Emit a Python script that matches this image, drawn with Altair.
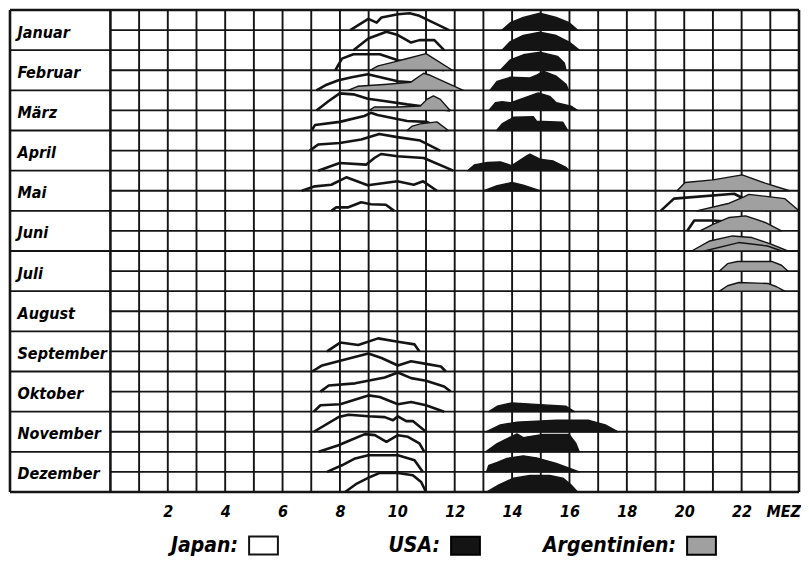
import json
import altair as alt
import pandas as pd

# ---------------- data ----------------
MONTHS = ["Januar", "Februar", "März", "April", "Mai", "Juni", "Juli",
          "August", "September", "Oktober", "November", "Dezember"]
HOUR_TICKS = [2, 4, 6, 8, 10, 12, 14, 16, 18, 20, 22]
UNIT = "MEZ"
OPEN_LEGEND = ["Japan:"]
FILLED_LEGEND = ["USA:", "Argentinien:"]

# each profile: (half-month row, hours MEZ, level as fraction of the row height)
JAPAN = [
    (0, [8.36, 8.99, 9.28, 9.45, 10.02, 10.43, 10.77, 11.80], [0, .56, .37, .63, .79, .84, .71, 0]),
    (1, [8.47, 8.99, 9.62, 10.02, 10.48, 10.77, 11.29, 11.63], [0, .58, .92, .75, .38, .5, .5, 0]),
    (2, [7.84, 8.07, 8.47, 9.39, 10.02, 10.54, 11.17, 11.63], [0, .58, .8, .8, .5, .33, .12, 0]),
    (3, [7.18, 7.49, 7.95, 8.41, 8.97, 9.56, 10.02, 10.69, 11.9], [0, .25, .5, .65, .8, .6, .45, .38, 0]),
    (4, [7.18, 7.61, 7.99, 8.47, 8.97, 9.54, 10.34, 10.8, 11.84], [0, .47, .85, .8, .58, .47, .3, .22, 0]),
    (5, [7.01, 7.13, 7.99, 8.85, 9.08, 9.31, 10.34, 11.03, 11.72], [0, .27, .43, .72, .88, .77, .47, .43, 0]),
    (6, [6.95, 7.24, 7.99, 8.74, 9.37, 10.0, 10.8, 11.49], [0, .3, .38, .55, .83, .67, .5, 0]),
    (7, [7.24, 7.99, 8.91, 9.2, 9.43, 10.0, 10.92, 11.95], [0, .38, .3, .63, .83, .72, .63, 0]),
    (8, [6.67, 7.13, 7.7, 8.22, 8.97, 10.0, 10.57, 10.9, 11.38], [0, .22, .3, .67, .27, .47, .3, .47, 0]),
    (9, [7.7, 7.87, 8.27, 8.74, 9.08, 9.6, 9.89], [0, .17, .17, .43, .33, .3, 0]),
    (9, [19.18, 19.64, 21.74, 22.9], [0, .61, .85, 0]),
    (10, [20.1, 20.35, 21.0, 21.6, 22.3], [0, .52, .52, .45, 0]),
    (16, [7.55, 8.01, 8.64, 9.33, 10.02, 10.6, 10.77], [0, .44, .32, .65, .48, .35, 0]),
    (17, [7.03, 7.38, 8.01, 8.99, 9.45, 10.02, 10.48, 11.0, 11.52, 11.69], [0, .3, .54, .9, .67, .3, .51, .38, .25, 0]),
    (18, [7.32, 7.61, 8.53, 9.56, 10.02, 10.48, 11.0, 11.63, 11.86], [0, .3, .41, .7, .95, .67, .54, .25, 0]),
    (19, [7.09, 7.32, 8.01, 8.99, 9.39, 10.02, 10.48, 11.0, 11.63], [0, .32, .37, .81, .73, .37, .48, .32, 0]),
    (20, [7.09, 7.95, 8.3, 8.99, 9.56, 9.85, 10.02, 10.31, 10.54, 11.0], [0, .73, .85, .77, .73, .57, .77, .53, .53, 0]),
    (21, [7.26, 7.95, 8.36, 8.87, 9.22, 9.62, 10.02, 10.37, 10.77, 10.94], [0, .33, .58, .88, .83, .5, .83, .75, .42, 0]),
    (22, [7.55, 8.07, 8.53, 8.99, 10.02, 10.6, 10.89], [0, .33, .67, .83, .83, .58, 0]),
    (23, [8.18, 8.59, 9.05, 9.39, 10.02, 10.54, 10.83, 11.0], [0, .42, .75, .95, .95, .83, .5, 0]),
]

USA = [
    (0, [13.65, 13.94, 14.39, 14.97, 15.54, 15.99, 16.28], [0, .37, .63, .84, .63, .37, 0]),
    (1, [13.65, 13.94, 14.39, 14.97, 15.54, 15.99, 16.34], [0, .43, .73, .9, .73, .4, 0]),
    (2, [13.59, 13.94, 14.39, 14.97, 15.59, 15.82, 15.88], [0, .52, .77, .9, .69, .36, 0]),
    (3, [13.23, 13.48, 13.94, 14.62, 14.85, 15.08, 15.54, 15.88, 15.97], [0, .45, .65, .62, .75, .95, .7, .3, 0]),
    (4, [13.19, 13.42, 13.65, 13.94, 14.91, 15.31, 15.54, 16.05, 16.28], [0, .38, .43, .38, .87, .7, .38, .21, 0]),
    (5, [13.46, 13.65, 14.05, 14.74, 14.85, 15.77, 15.94], [0, .33, .66, .69, .46, .41, 0]),
    (7, [12.45, 12.68, 13.14, 13.59, 13.99, 14.51, 14.62, 14.97, 15.42, 15.88, 16.0], [0, .28, .41, .44, .25, .74, .82, .57, .49, .16, 0]),
    (8, [13.02, 13.48, 13.99, 14.39, 14.97], [0, .25, .41, .28, 0]),
    (19, [13.19, 13.48, 13.99, 14.97, 15.88, 16.17], [0, .27, .44, .35, .27, 0]),
    (20, [13.11, 13.59, 14.17, 15.54, 16.68, 17.25, 17.69], [0, .34, .48, .57, .57, .34, 0]),
    (21, [13.08, 13.48, 13.99, 14.17, 14.39, 15.08, 15.99, 16.22, 16.34], [0, .41, .77, .89, .71, .86, .86, .43, 0]),
    (22, [13.11, 13.19, 13.48, 13.82, 14.39, 14.85, 15.54, 16.34], [0, .33, .47, .67, .8, .7, .42, 0]),
    (23, [13.11, 13.54, 14.05, 14.62, 15.31, 15.77, 16.05, 16.28], [0, .36, .69, .82, .82, .69, .36, 0]),
]

ARGENTINIEN = [
    (2, [9.05, 9.33, 9.9, 10.25, 11.0, 11.92], [0, .22, .42, .55, .83, 0]),
    (3, [8.28, 8.62, 9.66, 10.46, 10.92, 11.15, 12.3], [0, .2, .3, .4, .85, .75, 0]),
    (4, [9.02, 9.2, 10.0, 10.8, 11.03, 11.26, 11.5, 11.84], [0, .17, .17, .22, .55, .72, .55, 0]),
    (5, [10.34, 10.52, 10.8, 11.38, 11.78], [0, .22, .33, .43, 0]),
    (8, [19.75, 20.03, 21.0, 22.02, 22.82, 23.67], [0, .41, .54, .79, .38, 0]),
    (9, [20.43, 21.57, 22.08, 22.25, 23.5, 24.0], [0, .38, .7, .82, .61, 0]),
    (10, [20.55, 21.0, 21.57, 22.14, 22.82, 23.39], [0, .33, .67, .75, .42, 0]),
    (11, [20.26, 20.89, 21.68, 22.36, 23.05, 23.61], [0, .5, .75, .67, .33, 0]),
    (11, [20.7, 21.9, 22.9, 23.4], [0, .42, .25, 0]),
    (12, [21.23, 21.51, 21.85, 23.05, 23.39, 23.61], [0, .37, .48, .48, .29, 0]),
    (13, [21.23, 21.51, 21.9, 22.93, 23.22, 23.5], [0, .27, .43, .38, .22, 0]),
]

# ---------------- layout / style ----------------
FONT = "DejaVu Sans Condensed, Liberation Sans Narrow, sans-serif"
INK = "#141414"
STIPPLE = "#a0a0a0"
LABEL_COL = -3.5      # label column left edge, in hours
N_HALF = 24           # half-month rows
RECT = "M-1.6,-1L1.6,-1L1.6,1L-1.6,1Z"


def build(profiles, name, col):
    recs = []
    for i, (k, hs, fs) in enumerate(profiles):
        for h, f in zip(hs, fs):
            recs.append({"pid": f"{name}-{i}", col: name, "hour": h,
                         "top": k + 1 - f, "base": k + 1})
    return pd.DataFrame(recs)


jp = build(JAPAN, OPEN_LEGEND[0], "open_series")
filled = pd.concat([build(ARGENTINIEN, FILLED_LEGEND[1], "filled_series"),
                    build(USA, FILLED_LEGEND[0], "filled_series")], ignore_index=True)

inner_v = pd.DataFrame({"x": list(range(1, 24)), "y1": 0, "y2": N_HALF})
frame_v = pd.DataFrame({"x": [LABEL_COL, 0, 24], "y1": 0, "y2": N_HALF})
inner_h = pd.DataFrame({"y": list(range(1, N_HALF))})
inner_h["x1"] = [LABEL_COL if y % 2 == 0 else 0 for y in inner_h["y"]]
inner_h["x2"] = 24
frame_h = pd.DataFrame({"y": [0, N_HALF], "x1": LABEL_COL, "x2": 24})

xs = alt.Scale(domain=[LABEL_COL, 24], nice=False, zero=False)
ys = alt.Scale(domain=[0, N_HALF], reverse=True, nice=False, zero=False)

xaxis = alt.Axis(values=HOUR_TICKS + [23.45], format="d",
                 labelExpr=f"datum.value > 23 ? '{UNIT}' : datum.label",
                 grid=False, ticks=False, tickSize=0, domain=False, title=None,
                 labelPadding=11, labelFont=FONT, labelFontSize=16,
                 labelFontStyle="italic", labelFontWeight="bold",
                 labelColor="black", labelAngle=0, labelFlush=False,
                 labelOverlap=False)
yaxis = alt.Axis(values=[2 * i + 1 for i in range(12)],
                 labelExpr=f"{json.dumps(MONTHS, ensure_ascii=False)}[floor(datum.value / 2)]",
                 grid=False, ticks=False, tickSize=0, domain=False, title=None,
                 labelAlign="left", labelBaseline="middle", labelPadding=-7,
                 labelOffset=2, labelFont=FONT, labelFontSize=16,
                 labelFontStyle="italic", labelFontWeight="bold",
                 labelColor="black", labelOverlap=False)

X = lambda f: alt.X(f, scale=xs, axis=xaxis)
Y = lambda f, **kw: alt.Y(f, scale=ys, axis=yaxis, **kw)

vgrid = alt.Chart(inner_v).mark_rule(color=INK, strokeWidth=1.9).encode(
    x=X("x:Q"), y=Y("y1:Q"), y2="y2:Q")
hgrid = alt.Chart(inner_h).mark_rule(color=INK, strokeWidth=1.9).encode(
    x=X("x1:Q"), x2="x2:Q", y=Y("y:Q"))
vframe = alt.Chart(frame_v).mark_rule(color=INK, strokeWidth=2.6).encode(
    x=X("x:Q"), y=Y("y1:Q"), y2="y2:Q")
hframe = alt.Chart(frame_h).mark_rule(color=INK, strokeWidth=2.6).encode(
    x=X("x1:Q"), x2="x2:Q", y=Y("y:Q"))

legend_common = dict(orient="none", direction="horizontal", title=None,
                     labelFont=FONT, labelFontSize=21, labelFontStyle="italic",
                     labelFontWeight="bold", labelColor="black",
                     labelAlign="right", labelOffset={"expr": "-36"},
                     symbolType=RECT, symbolSize=324,
                     symbolStrokeColor="black", symbolStrokeWidth=2,
                     symbolOpacity=1, padding=0)

lines = alt.Chart(jp).mark_line(strokeWidth=2.6, strokeJoin="round",
                                interpolate="linear").encode(
    x=X("hour:Q"), y=Y("top:Q"),
    detail="pid:N",
    stroke=alt.Stroke("open_series:N",
                      scale=alt.Scale(domain=OPEN_LEGEND, range=[INK]),
                      legend=alt.Legend(legendX=243, legendY=525,
                                        symbolFillColor="white",
                                        **legend_common)))

areas = alt.Chart(filled).mark_area(stroke=INK, strokeWidth=1.4,
                                    strokeJoin="round", opacity=1,
                                    interpolate="linear").encode(
    x=X("hour:Q"), y=Y("top:Q", stack=None),
    y2="base:Q",
    detail="pid:N",
    fill=alt.Fill("filled_series:N",
                  scale=alt.Scale(domain=FILLED_LEGEND, range=[INK, STIPPLE]),
                  legend=alt.Legend(legendX=445, legendY=525,
                                    columnPadding=59, **legend_common)))

chart = alt.layer(vgrid, hgrid, lines, areas, vframe, hframe).properties(
    width=789, height=482, padding=0, background="white"
).configure_view(stroke=None)

chart.save("out.html", embed_options={"renderer": "svg", "actions": False})
